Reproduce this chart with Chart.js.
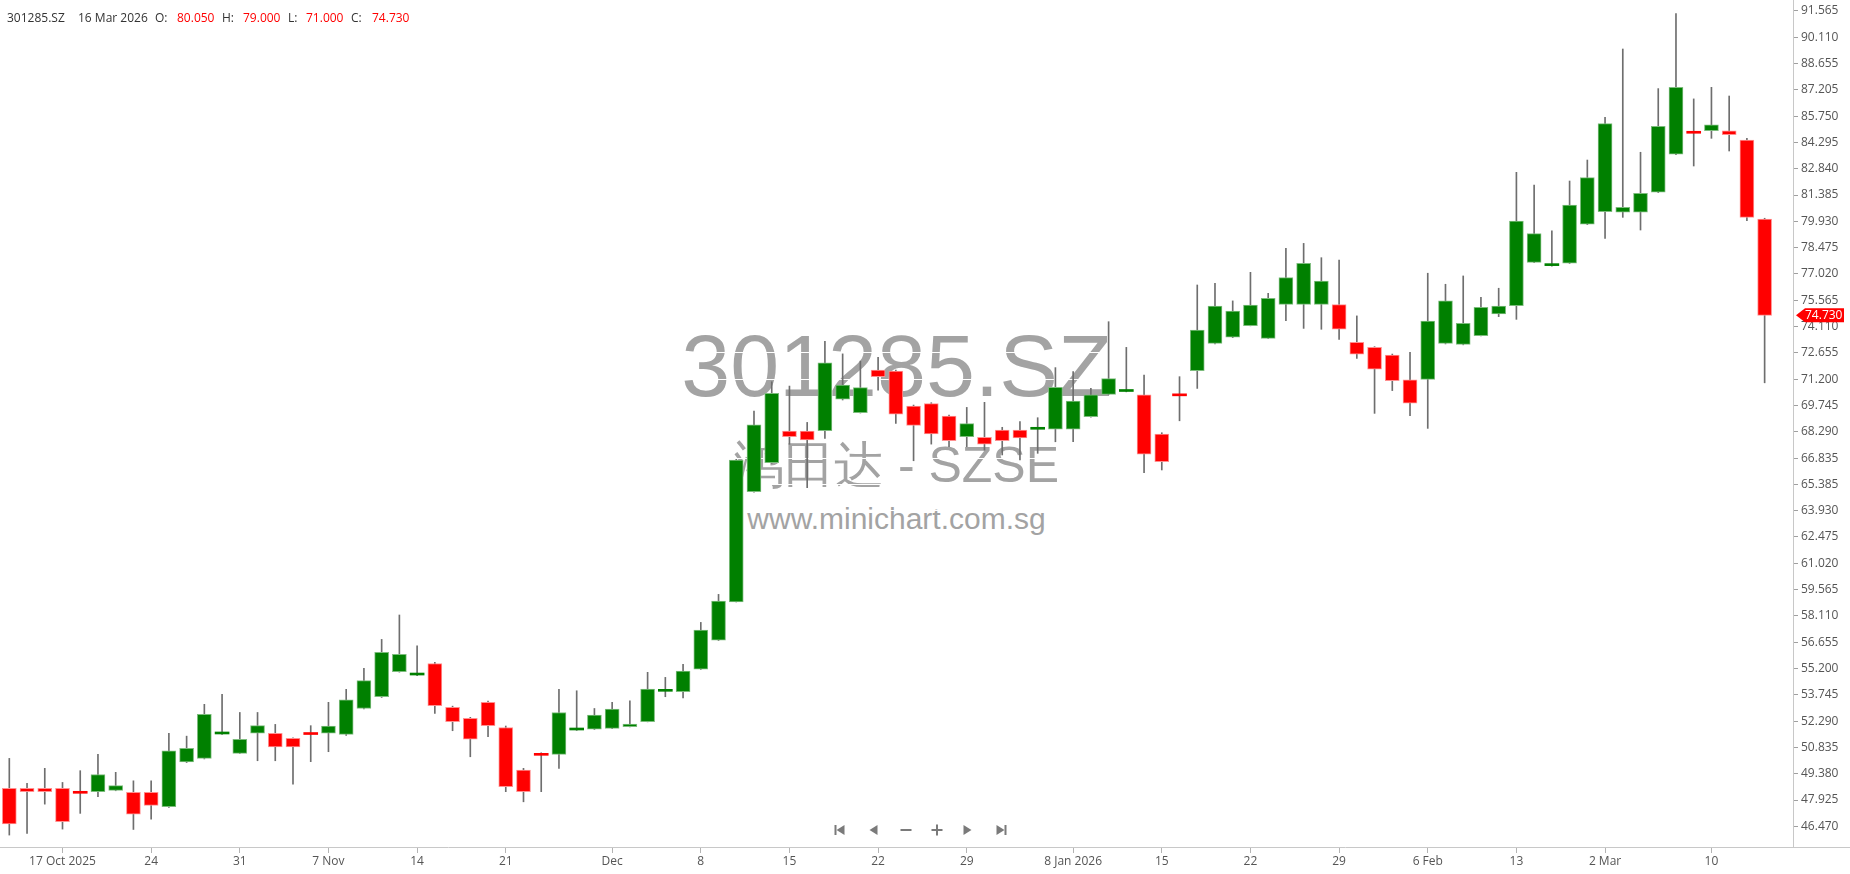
<!DOCTYPE html>
<html>
<head>
<meta charset="utf-8">
<script src="https://cdn.jsdelivr.net/npm/chart.js@4.4.1/dist/chart.umd.min.js"></script>
<style>
html, body { margin: 0; padding: 0; background: #fff; }
#wrap { position: relative; width: 1850px; height: 874px; overflow: hidden; }
.wm { position: absolute; left: 0; width: 1793px; text-align: center; white-space: nowrap; line-height: 1; color: #a3a3a3; font-family: "Liberation Sans", Arial, sans-serif; }
#chart { position: absolute; left: 0; top: 0; }
.hd { position: absolute; top: 9px; line-height: 16px; font: 12px "Open Sans", sans-serif; color: #333; white-space: nowrap; }
.hd.v { color: #ff0000; }
</style>
</head>
<body>
<div id="wrap">
  <div class="wm" style="top:322px;font-size:88px;">301285.SZ</div>
  <div class="wm" style="top:440px;font-size:50px;">鸿田达 - SZSE</div>
  <div class="wm" style="top:504px;font-size:30px;">www.minichart.com.sg</div>
  <canvas id="chart" width="1850" height="874"></canvas>
  <span class="hd" style="left:7px">301285.SZ</span>
  <span class="hd" style="left:78px">16 Mar 2026</span>
  <span class="hd" style="left:155px">O:</span>
  <span class="hd v" style="left:177px">80.050</span>
  <span class="hd" style="left:222px">H:</span>
  <span class="hd v" style="left:243px">79.000</span>
  <span class="hd" style="left:288px">L:</span>
  <span class="hd v" style="left:306px">71.000</span>
  <span class="hd" style="left:351px">C:</span>
  <span class="hd v" style="left:372px">74.730</span>
</div>
<script>
// daily candles, 14 Oct 2025 .. 16 Mar 2026
var opens = [
    48.57, 48.57, 48.57, 48.57, 48.35, 48.39, 48.46, 48.35, 48.35, 47.56,
    50.04, 50.23, 51.58, 50.51, 51.63, 51.61, 51.34, 51.59, 51.63, 51.56,
    52.99, 53.64, 55.02, 54.84, 55.48, 53.05, 52.44, 53.33, 51.94, 49.58,
    50.45, 50.45, 51.80, 51.85, 51.89, 51.98, 52.26, 53.94, 53.92, 55.17,
    56.77, 58.89, 64.98, 66.58, 68.33, 68.33, 68.35, 70.10, 69.35, 71.71,
    71.65, 69.72, 69.85, 69.16, 68.02, 67.98, 68.39, 68.39, 68.43, 68.43,
    68.43, 69.13, 70.36, 70.52, 70.33, 68.17, 70.33, 71.67, 73.18, 73.52,
    74.16, 73.46, 75.34, 75.34, 75.34, 75.32, 73.24, 72.96, 72.54, 71.16,
    71.19, 73.18, 73.13, 73.61, 74.81, 75.27, 77.66, 77.48, 77.61, 79.77,
    80.47, 80.43, 80.43, 81.54, 83.64, 84.85, 84.95, 84.93, 84.43, 80.05
];
var highs = [
    50.23, 48.85, 49.68, 48.90, 49.55, 50.45, 49.46, 48.99, 48.99, 51.61,
    51.46, 53.22, 53.77, 52.77, 52.77, 52.11, 51.37, 52.04, 53.33, 54.05,
    55.21, 56.81, 58.16, 56.46, 55.54, 53.12, 52.50, 53.40, 52.02, 49.68,
    50.54, 54.05, 53.97, 52.99, 53.33, 53.42, 54.99, 54.71, 55.43, 57.75,
    59.30, 66.77, 69.44, 71.06, 70.82, 68.81, 73.30, 72.60, 72.20, 72.41,
    71.71, 69.77, 69.90, 69.22, 69.64, 69.92, 68.54, 68.85, 69.07, 71.84,
    71.62, 70.69, 74.38, 72.96, 71.43, 68.24, 71.34, 76.41, 76.50, 75.53,
    77.11, 75.95, 78.44, 78.71, 77.92, 77.79, 74.70, 73.00, 72.59, 72.69,
    77.06, 76.45, 76.91, 75.73, 76.23, 82.64, 81.94, 79.40, 82.16, 83.32,
    85.68, 89.46, 83.75, 87.27, 91.42, 86.70, 87.34, 86.86, 84.52, 80.10
];
var lows = [
    45.99, 46.08, 47.70, 46.32, 47.19, 48.11, 48.44, 46.30, 46.87, 47.52,
    50.00, 50.20, 51.56, 50.50, 50.10, 50.10, 48.80, 50.05, 50.60, 51.50,
    52.97, 53.60, 55.00, 54.80, 52.72, 51.76, 50.32, 51.43, 48.39, 47.83,
    48.39, 49.68, 51.78, 51.83, 51.88, 51.97, 52.25, 53.64, 53.58, 55.15,
    56.75, 58.88, 64.95, 66.55, 67.60, 65.20, 67.93, 70.05, 69.33, 70.60,
    68.76, 66.69, 67.61, 67.47, 67.47, 67.28, 67.01, 66.73, 67.10, 67.74,
    67.74, 69.10, 70.34, 70.50, 66.03, 66.18, 68.90, 70.69, 73.15, 73.50,
    74.15, 73.45, 74.44, 74.01, 73.96, 73.40, 72.35, 69.31, 70.57, 69.18,
    68.48, 73.15, 73.10, 73.60, 74.66, 74.51, 77.65, 77.45, 77.60, 79.75,
    78.99, 80.15, 79.45, 81.52, 83.62, 82.99, 84.52, 83.82, 79.97, 71.00
];
var closes = [
    46.60, 48.39, 48.39, 46.73, 48.30, 49.34, 48.72, 47.15, 47.63, 50.65,
    50.78, 52.66, 51.62, 51.28, 52.04, 50.87, 50.87, 51.55, 52.02, 53.47,
    54.53, 56.09, 55.98, 54.86, 53.14, 52.26, 51.30, 52.04, 48.66, 48.39,
    50.40, 52.77, 51.82, 52.63, 52.96, 52.13, 54.06, 53.96, 55.06, 57.33,
    58.93, 66.73, 68.67, 70.42, 68.02, 67.84, 72.11, 70.88, 70.73, 71.34,
    69.26, 68.65, 68.17, 67.80, 68.74, 67.61, 67.80, 67.95, 68.45, 70.75,
    69.99, 70.34, 71.23, 70.54, 67.06, 66.64, 70.28, 73.92, 75.25, 74.97,
    75.30, 75.67, 76.82, 77.61, 76.63, 73.96, 72.58, 71.76, 71.12, 69.87,
    74.42, 75.53, 74.29, 75.17, 75.25, 79.95, 79.25, 77.59, 80.83, 82.35,
    85.33, 80.71, 81.48, 85.19, 87.34, 84.80, 85.26, 84.72, 80.15, 74.73
];

// x axis labels and the candle they sit under
var tickIndex = [3, 8, 13, 18, 23, 28, 34, 39, 44, 49, 54, 60, 65, 70, 75, 80, 85, 90, 96];
var tickLabels = ['17 Oct 2025', '24', '31', '7 Nov', '14', '21', 'Dec', '8', '15', '22',
    '29', '8 Jan 2026', '15', '22', '29', '6 Feb', '13', '2 Mar', '10'];

// price axis labels
var yTickLabels = ['46.470', '47.925', '49.380', '50.835', '52.290', '53.745', '55.200', '56.655',
    '58.110', '59.565', '61.020', '62.475', '63.930', '65.385', '66.835', '68.290', '69.745',
    '71.200', '72.655', '74.110', '75.565', '77.020', '78.475', '79.930', '81.385', '82.840',
    '84.295', '85.750', '87.205', '88.655', '90.110', '91.565'];

var GREEN = '#008000';
var RED = '#ff0000';
var axisFont = { family: 'Open Sans', size: 12 };

function isUp(i) {
    return closes[i] >= opens[i];
}

var bodies = opens.map(function (o, i) { return { x: i, y: [o, closes[i]] }; });
var wicks = lows.map(function (l, i) { return { x: i, y: [l, highs[i]] }; });

// last price tag, axis line under the price labels, navigator buttons
var extras = {
    id: 'extras',
    afterDraw: function (chart) {
        var c = chart.ctx;
        var area = chart.chartArea;
        var y = chart.scales.y.getPixelForValue(closes[closes.length - 1]);
        c.save();

        c.strokeStyle = '#c8c8c8';
        c.lineWidth = 1;
        c.beginPath();
        c.moveTo(area.right, area.bottom + 0.5);
        c.lineTo(chart.width, area.bottom + 0.5);
        c.stroke();

        c.fillStyle = RED;
        c.beginPath();
        c.moveTo(area.right + 3, y);
        c.lineTo(area.right + 12, y - 7);
        c.lineTo(area.right + 51, y - 7);
        c.lineTo(area.right + 51, y + 7);
        c.lineTo(area.right + 12, y + 7);
        c.closePath();
        c.fill();
        c.fillStyle = '#fff';
        c.font = '12px "Open Sans"';
        c.textBaseline = 'middle';
        c.textAlign = 'left';
        c.fillText(closes[closes.length - 1].toFixed(3), area.right + 12, y + 0.5);

        var ny = area.bottom - 17;
        var cx = area.left + (area.right - area.left) / 2;
        c.fillStyle = '#7a7a7a';
        // |<
        c.fillRect(cx - 62, ny - 5, 2, 10);
        c.beginPath(); c.moveTo(cx - 60, ny); c.lineTo(cx - 52, ny - 5); c.lineTo(cx - 52, ny + 5); c.fill();
        // <
        c.beginPath(); c.moveTo(cx - 27, ny); c.lineTo(cx - 19, ny - 5); c.lineTo(cx - 19, ny + 5); c.fill();
        // -
        c.fillRect(cx + 4, ny - 1, 11, 2);
        // +
        c.fillRect(cx + 35, ny - 1, 11, 2);
        c.fillRect(cx + 39.5, ny - 5.5, 2, 11);
        // >
        c.beginPath(); c.moveTo(cx + 67, ny - 5); c.lineTo(cx + 75, ny); c.lineTo(cx + 67, ny + 5); c.fill();
        // >|
        c.beginPath(); c.moveTo(cx + 100, ny - 5); c.lineTo(cx + 108, ny); c.lineTo(cx + 100, ny + 5); c.fill();
        c.fillRect(cx + 108, ny - 5, 2, 10);
        c.restore();
    }
};

var ctx = document.getElementById('chart').getContext('2d');
var candleChart = new Chart(ctx, {
    type: 'bar',
    data: {
        datasets: [{
            label: 'Body',
            data: bodies,
            order: 1,
            grouped: false,
            barThickness: 14,
            minBarLength: 2,
            borderSkipped: false,
            backgroundColor: function (c) {
                if (c.dataIndex === undefined) return GREEN;
                return isUp(c.dataIndex) ? GREEN : RED;
            },
            borderColor: function (c) {
                if (c.dataIndex === undefined) return '#7cbc7c';
                return isUp(c.dataIndex) ? '#7cbc7c' : '#ff9090';
            },
            borderWidth: function (c) {
                if (c.dataIndex === undefined) return 1;
                return Math.abs(opens[c.dataIndex] - closes[c.dataIndex]) < 0.15 ? 0 : 1;
            }
        }, {
            label: 'Wick',
            data: wicks,
            order: 2,
            grouped: false,
            barThickness: 1,
            backgroundColor: '#6e6e6e',
            borderWidth: 0
        }]
    },
    options: {
        responsive: false,
        animation: false,
        layout: { padding: 0 },
        plugins: {
            legend: { display: false },
            tooltip: { enabled: false }
        },
        scales: {
            x: {
                type: 'linear',
                min: -0.525,
                max: 100.6,
                offset: false,
                grid: { offset: false, drawOnChartArea: false, tickLength: 6, tickColor: '#b4b4b4' },
                border: { color: '#c8c8c8' },
                afterBuildTicks: function (s) {
                    s.ticks = tickIndex.map(function (v) { return { value: v }; });
                },
                afterFit: function (s) {
                    s.height = 27;
                    s.paddingLeft = 0;
                    s.paddingRight = 0;
                },
                ticks: {
                    autoSkip: false,
                    maxRotation: 0,
                    padding: 1,
                    font: axisFont,
                    color: '#555',
                    callback: function (v) { return tickLabels[tickIndex.indexOf(v)]; }
                }
            },
            y: {
                position: 'right',
                min: 45.33,
                max: 92.17,
                grid: { color: '#ffffff', tickLength: 5, tickColor: '#a0a0a0' },
                border: { color: '#c8c8c8' },
                afterBuildTicks: function (s) {
                    s.ticks = yTickLabels.map(function (t) { return { value: parseFloat(t) }; });
                },
                afterFit: function (s) {
                    s.width = 57;
                    s.paddingTop = 0;
                    s.paddingBottom = 0;
                },
                ticks: {
                    autoSkip: false,
                    padding: 3,
                    font: axisFont,
                    color: '#555',
                    callback: function (v, i) { return yTickLabels[i]; }
                }
            }
        }
    },
    plugins: [extras]
});
</script>
</body>
</html>
